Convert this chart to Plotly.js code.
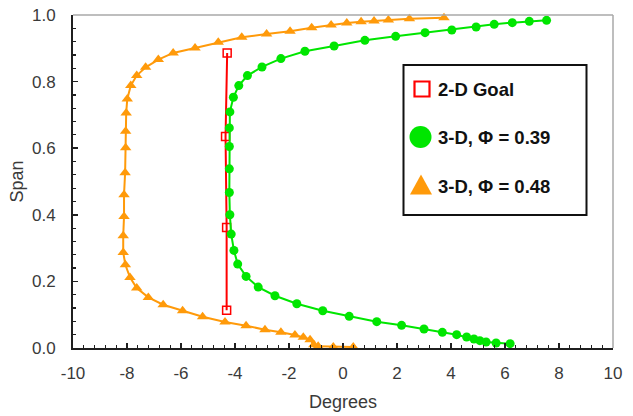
<!DOCTYPE html>
<html>
<head>
<meta charset="utf-8">
<script src="https://cdn.plot.ly/plotly-3.0.1.min.js"></script>
<style>
html, body { margin: 0; padding: 0; background: #ffffff; }
#chart { width: 633px; height: 416px; }
</style>
</head>
<body>
<div id="chart"></div>
<script>
// ---- Data ----
const goalX = [-4.31, -4.31, -4.35, -4.29];
const goalY = [0.113, 0.362, 0.635, 0.886];

const phi039X = [6.19, 5.67, 5.30, 5.07, 4.85, 4.58, 4.21, 3.68, 3.00, 2.17, 1.25, 0.23, -0.75, -1.71, -2.52, -3.14, -3.59, -3.90, -4.04, -4.14, -4.19, -4.21, -4.21, -4.21, -4.21, -4.19, -4.06, -3.86, -3.54, -3.00, -2.30, -1.41, -0.33, 0.81, 1.95, 3.04, 4.03, 4.93, 5.60, 6.27, 6.90, 7.54];
const phi039Y = [0.013, 0.015, 0.018, 0.022, 0.027, 0.033, 0.040, 0.047, 0.057, 0.068, 0.079, 0.095, 0.112, 0.133, 0.157, 0.183, 0.215, 0.252, 0.293, 0.342, 0.400, 0.467, 0.538, 0.605, 0.661, 0.709, 0.753, 0.788, 0.818, 0.844, 0.869, 0.891, 0.907, 0.924, 0.936, 0.947, 0.955, 0.964, 0.972, 0.977, 0.981, 0.984];

const phi048X = [0.38, -0.36, -0.92, -1.08, -1.22, -1.47, -1.78, -2.30, -2.89, -3.59, -4.37, -5.20, -5.94, -6.66, -7.21, -7.64, -7.89, -8.06, -8.14, -8.14, -8.11, -8.11, -8.07, -8.05, -8.05, -8.03, -7.99, -7.86, -7.64, -7.31, -6.84, -6.29, -5.48, -4.62, -3.75, -2.83, -1.96, -1.16, -0.44, 0.14, 0.67, 1.15, 1.68, 2.46, 3.74];
const phi048Y = [0.003, 0.003, 0.005, 0.010, 0.025, 0.032, 0.039, 0.047, 0.055, 0.067, 0.078, 0.094, 0.112, 0.130, 0.152, 0.180, 0.212, 0.250, 0.287, 0.337, 0.395, 0.460, 0.526, 0.601, 0.651, 0.706, 0.748, 0.788, 0.818, 0.843, 0.866, 0.886, 0.901, 0.918, 0.933, 0.943, 0.951, 0.962, 0.970, 0.976, 0.980, 0.982, 0.985, 0.989, 0.992];

const xTickVals = [-10, -8, -6, -4, -2, 0, 2, 4, 6, 8, 10];
const yTickVals = [0.0, 0.2, 0.4, 0.6, 0.8, 1.0];

const legendLabels = ['2-D Goal', '3-D, \u03A6 = 0.39', '3-D, \u03A6 = 0.48'];

// ---- Styles ----
const RED = '#ff0000', GREEN = '#00e600', ORANGE = '#ff9a0a';
const AXIS = '#1f1f1f', LABEL = '#3a3a3a';

const traces = [
  { x: goalX, y: goalY, type: 'scatter', mode: 'lines+markers', name: legendLabels[0],
    line: { color: RED, width: 2 },
    marker: { symbol: 'square-open', size: 8, color: RED, line: { width: 1.5, color: RED } },
    cliponaxis: false },
  { x: phi039X, y: phi039Y, type: 'scatter', mode: 'lines+markers', name: legendLabels[1],
    line: { color: GREEN, width: 2 },
    marker: { symbol: 'circle', size: 9, color: GREEN },
    cliponaxis: false },
  { x: phi048X, y: phi048Y, type: 'scatter', mode: 'lines+markers', name: legendLabels[2],
    line: { color: ORANGE, width: 2 },
    marker: { symbol: 'triangle-up', size: 10, color: ORANGE },
    cliponaxis: false }
];

// plot area in pixels: x 73..613, y 15..348
function px2paperX(p) { return (p - 73) / 540; }
function px2paperY(p) { return (348 - p) / 333; }

const legendFont = { family: 'Liberation Sans, Arial, sans-serif', size: 18.5, color: '#111111', weight: 'bold' };
const rowY = [89, 137.5, 186.5];
const symX = 421;

const shapes = [
  // top and right thin grey frame
  { type: 'line', xref: 'paper', yref: 'paper', x0: 0, x1: 1, y0: 1, y1: 1, line: { color: '#a8a8a8', width: 1.5 } },
  { type: 'line', xref: 'paper', yref: 'paper', x0: 1, x1: 1, y0: 0, y1: 1, line: { color: '#a8a8a8', width: 1.5 } },
  // legend box
  { type: 'rect', xref: 'paper', yref: 'paper', x0: px2paperX(403.5), x1: px2paperX(586.5), y0: px2paperY(215), y1: px2paperY(65),
    line: { color: '#111111', width: 2 }, fillcolor: 'rgba(255,255,255,1)', layer: 'above' },
  // legend symbols
  { type: 'rect', xref: 'paper', yref: 'paper', xsizemode: 'pixel', ysizemode: 'pixel',
    xanchor: px2paperX(symX + 1), yanchor: px2paperY(rowY[0]), x0: -7.5, x1: 7.5, y0: -7.5, y1: 7.5,
    line: { color: RED, width: 2.2 }, fillcolor: 'rgba(255,255,255,1)', layer: 'above' },
  { type: 'circle', xref: 'paper', yref: 'paper', xsizemode: 'pixel', ysizemode: 'pixel',
    xanchor: px2paperX(symX - 0.5), yanchor: px2paperY(rowY[1] - 0.5), x0: -11, x1: 11, y0: -11, y1: 11,
    line: { color: GREEN, width: 0 }, fillcolor: GREEN, layer: 'above' },
  { type: 'path', xref: 'paper', yref: 'paper', xsizemode: 'pixel', ysizemode: 'pixel',
    xanchor: px2paperX(symX), yanchor: px2paperY(rowY[2] - 1),
    path: 'M -11,-9 L 11,-9 L 0,11 Z',
    line: { color: ORANGE, width: 0 }, fillcolor: ORANGE, layer: 'above' }
];

const annotations = legendLabels.map((t, i) => ({
  text: t, xref: 'paper', yref: 'paper', x: px2paperX(436), y: px2paperY(rowY[i]),
  xanchor: 'left', yanchor: 'middle', showarrow: false, font: legendFont
}));

const tickFont = { family: 'Liberation Sans, Arial, sans-serif', size: 17, color: LABEL };

const layout = {
  width: 633, height: 416,
  margin: { l: 73, r: 20, t: 15, b: 68 },
  paper_bgcolor: '#ffffff', plot_bgcolor: '#ffffff',
  showlegend: false,
  xaxis: {
    range: [-10, 10], tickvals: xTickVals, ticktext: xTickVals.map(String),
    showgrid: false, zeroline: false, showline: true, linecolor: AXIS, linewidth: 2,
    ticks: 'inside', ticklen: 5, tickwidth: 1.5, tickcolor: AXIS,
    minor: { dtick: 0.4, tick0: -10, ticks: 'inside', ticklen: 3, tickwidth: 1.2, tickcolor: AXIS, showgrid: false },
    tickfont: tickFont, ticklabelstandoff: 9,
    title: { text: 'Degrees', font: { family: 'Liberation Sans, Arial, sans-serif', size: 18, color: LABEL }, standoff: 13 }
  },
  yaxis: {
    range: [0, 1], tickvals: yTickVals, ticktext: yTickVals.map(v => v.toFixed(1)),
    showgrid: false, zeroline: false, showline: true, linecolor: AXIS, linewidth: 2,
    ticks: 'inside', ticklen: 5, tickwidth: 1.5, tickcolor: AXIS,
    minor: { dtick: 0.04, tick0: 0, ticks: 'inside', ticklen: 3, tickwidth: 1.2, tickcolor: AXIS, showgrid: false },
    tickfont: tickFont, ticklabelstandoff: 12,
    title: { text: 'Span', font: { family: 'Liberation Sans, Arial, sans-serif', size: 18, color: LABEL }, standoff: 4 }
  },
  shapes: shapes,
  annotations: annotations
};

Plotly.newPlot('chart', traces, layout, { staticPlot: true, displayModeBar: false });
</script>
</body>
</html>
